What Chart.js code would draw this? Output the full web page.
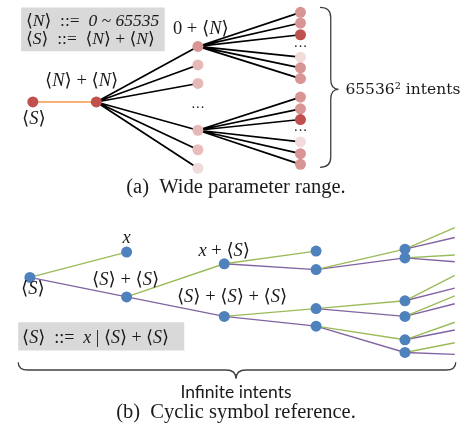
<!DOCTYPE html>
<html>
<head>
<meta charset="utf-8">
<script src="https://cdn.jsdelivr.net/npm/chart.js@4.4.0/dist/chart.umd.min.js"></script>
<style>
html, body { margin: 0; padding: 0; background: #fff; }
</style>
</head>
<body>
<canvas id="c" width="472" height="433"></canvas>
<script>
// (a) wide parameter range: root -> <N>+<N> -> 6 first values -> 6 second values
var aRootX = [28, 93];
var aRootY = [99, 99];
var aMidX = 197;
var aMidY = [42, 61, 80, 128, 148, 167];
var aMidColors = ['#d99594', '#e6b9b8', '#e6b9b8', '#e6b9b8', '#e8bdbc', '#f2dcdb'];
var aLeafX = 302;
var aLeafTopY = [7, 18, 30, 53, 64, 75];
var aLeafBotY = [94, 106, 117, 140, 152, 163];
var aLeafColors = ['#d99594', '#d99594', '#c0504d', '#f2dcdb', '#d99594', '#d99594'];

// (b) cyclic symbol reference
var bNodeX = [25, 124, 124, 224, 224, 318, 318, 318, 318, 409, 409, 409, 409, 409, 409];
var bNodeY = [279, 253, 299, 265, 319, 252, 271, 311, 329, 250, 259, 303, 319, 343, 356];
var bGreenEdges = [[0, 1], [2, 3], [3, 5], [4, 7], [6, 9], [7, 11], [8, 13]];   // "x" branch
var bPurpleEdges = [[0, 2], [2, 4], [3, 6], [4, 8], [6, 10], [7, 12], [8, 14]]; // "<S>+<S>" branch
var bStubFrom = [9, 10, 11, 12, 13, 14];
var bStubX = 460;
var bStubGreenY = [228, 256, 277, 298, 325, 346];
var bStubPurpleY = [238, 263, 290, 306, 333, 358];

var SERIF = "'Liberation Serif', 'DejaVu Serif', serif";

// segments list with a null point between them so each pair is its own line
function segs(pairs) {
    var out = [];
    pairs.forEach(function(p) {
        out.push({x: p[0], y: p[1]}, {x: p[2], y: p[3]}, {x: p[2], y: null});
    });
    return out;
}

var blackPairs = [];
aMidY.forEach(function(y) { blackPairs.push([aRootX[1], aRootY[1], aMidX, y]); });
aLeafTopY.forEach(function(y) { blackPairs.push([aMidX, aMidY[0], aLeafX, y]); });
aLeafBotY.forEach(function(y) { blackPairs.push([aMidX, aMidY[3], aLeafX, y]); });

var greenPairs = bGreenEdges.map(function(e) { return [bNodeX[e[0]], bNodeY[e[0]], bNodeX[e[1]], bNodeY[e[1]]]; });
var purplePairs = bPurpleEdges.map(function(e) { return [bNodeX[e[0]], bNodeY[e[0]], bNodeX[e[1]], bNodeY[e[1]]]; });
bStubFrom.forEach(function(n, i) {
    greenPairs.push([bNodeX[n], bNodeY[n], bStubX, bStubGreenY[i]]);
    purplePairs.push([bNodeX[n], bNodeY[n], bStubX, bStubPurpleY[i]]);
});

var aNodes = [], aColors = [];
aRootX.forEach(function(x, i) { aNodes.push({x: x, y: aRootY[i]}); aColors.push('#c0504d'); });
aMidY.forEach(function(y, i) { aNodes.push({x: aMidX, y: y}); aColors.push(aMidColors[i]); });
aLeafTopY.forEach(function(y, i) { aNodes.push({x: aLeafX, y: y}); aColors.push(aLeafColors[i]); });
aLeafBotY.forEach(function(y, i) { aNodes.push({x: aLeafX, y: y}); aColors.push(aLeafColors[i]); });
var bNodes = bNodeX.map(function(x, i) { return {x: x, y: bNodeY[i]}; });

// text with {...} parts set in italic
function drawMath(ctx, text, x, y, size, align) {
    var runs = [], cur = '', it = false, w = 0;
    for (var i = 0; i < text.length; i++) {
        var ch = text[i];
        if (ch === '{' || ch === '}') {
            if (cur) runs.push([cur, it]);
            cur = '';
            it = ch === '{';
        } else cur += ch;
    }
    if (cur) runs.push([cur, it]);
    runs.forEach(function(r) {
        ctx.font = (r[1] ? 'italic ' : '') + size + 'px ' + SERIF;
        r.push(ctx.measureText(r[0]).width);
        w += r[2];
    });
    var sx = align === 'left' ? x : x - w / 2;
    ctx.textAlign = 'left';
    ctx.textBaseline = 'middle';
    runs.forEach(function(r) {
        ctx.font = (r[1] ? 'italic ' : '') + size + 'px ' + SERIF;
        ctx.fillText(r[0], sx, y);
        sx += r[2];
    });
}

function vBrace(ctx, xe, xs, xt, y0, ym, y1) {
    var r = 10;
    ctx.beginPath();
    ctx.moveTo(xe, y0);
    ctx.quadraticCurveTo(xs, y0, xs, y0 + r);
    ctx.lineTo(xs, ym - r);
    ctx.quadraticCurveTo(xs, ym, xt, ym);
    ctx.quadraticCurveTo(xs, ym, xs, ym + r);
    ctx.lineTo(xs, y1 - r);
    ctx.quadraticCurveTo(xs, y1, xe, y1);
    ctx.stroke();
}

function hBrace(ctx, ye, ys, yt, x0, xm, x1) {
    var r = 10;
    ctx.beginPath();
    ctx.moveTo(x0, ye);
    ctx.quadraticCurveTo(x0, ys, x0 + r, ys);
    ctx.lineTo(xm - r, ys);
    ctx.quadraticCurveTo(xm, ys, xm, yt);
    ctx.quadraticCurveTo(xm, ys, xm + r, ys);
    ctx.lineTo(x1 - r, ys);
    ctx.quadraticCurveTo(x1, ys, x1, ye);
    ctx.stroke();
}

var decor = {
    id: 'decor',
    beforeDatasetsDraw: function(chart) {
        var ctx = chart.ctx, sx = chart.scales.x, sy = chart.scales.y;
        var px = function(v) { return sx.getPixelForValue(v); };
        var py = function(v) { return sy.getPixelForValue(v); };
        ctx.save();
        ctx.fillStyle = '#d9d9d9';
        ctx.fillRect(px(16), py(2), px(163) - px(16), py(47) - py(2));
        ctx.fillRect(px(13), py(325), px(183) - px(13), py(354) - py(325));
        ctx.restore();
    },
    afterDatasetsDraw: function(chart) {
        var ctx = chart.ctx, sx = chart.scales.x, sy = chart.scales.y;
        var px = function(v) { return sx.getPixelForValue(v); };
        var py = function(v) { return sy.getPixelForValue(v); };
        ctx.save();
        ctx.fillStyle = '#1a1a1a';
        // grammar boxes
        drawMath(ctx, '⟨{N}⟩  ::=  {0 ~ 65535}', px(21), py(16), 17.5, 'left');
        drawMath(ctx, '⟨{S}⟩  ::=  ⟨{N}⟩ + ⟨{N}⟩', px(21), py(35), 17.5, 'left');
        drawMath(ctx, '⟨{S}⟩  ::=  {x} | ⟨{S}⟩ + ⟨{S}⟩', px(17), py(341), 18, 'left');
        // node labels
        drawMath(ctx, '⟨{N}⟩ + ⟨{N}⟩', px(78), py(78), 18.5);
        drawMath(ctx, '⟨{S}⟩', px(29), py(117), 18.5);
        drawMath(ctx, '0 + ⟨{N}⟩', px(200), py(24), 18.5);
        drawMath(ctx, '{x}', px(124), py(239), 18.5);
        drawMath(ctx, '⟨{S}⟩ + ⟨{S}⟩', px(123), py(282), 18.5);
        drawMath(ctx, '⟨{S}⟩', px(28), py(291), 18.5);
        drawMath(ctx, '{x} + ⟨{S}⟩', px(224), py(252), 18.5);
        drawMath(ctx, '⟨{S}⟩ + ⟨{S}⟩ + ⟨{S}⟩', px(232), py(299), 18.5);
        // ellipses
        ctx.font = '14px ' + SERIF;
        ctx.textAlign = 'center';
        ctx.textBaseline = 'middle';
        ctx.fillText('···', px(aMidX), py(105));
        ctx.fillText('···', px(aLeafX), py(43));
        ctx.fillText('···', px(aLeafX), py(129));
        // braces
        ctx.strokeStyle = '#404040';
        ctx.lineWidth = 1.3;
        vBrace(ctx, px(322), px(333), px(341), py(2), py(86), py(166));
        hBrace(ctx, py(366), py(374), py(383), px(13), px(236), px(461));
        // counts and captions
        ctx.font = "15.5px 'DejaVu Serif', serif";
        ctx.textAlign = 'left';
        ctx.fillText('65536² intents', px(348), py(87));
        ctx.font = '17.5px Lato, sans-serif';
        ctx.textAlign = 'center';
        ctx.fillText('Infinite intents', px(236), py(397));
        ctx.font = '20.5px ' + SERIF;
        ctx.fillText('(a)  Wide parameter range.', px(236), py(187));
        ctx.fillText('(b)  Cyclic symbol reference.', px(236), py(418));
        ctx.restore();
    }
};

var chart = new Chart(document.getElementById('c'), {
    type: 'scatter',
    data: {
        datasets: [
            {label: 'a nodes', data: aNodes, pointRadius: 5.5, pointBackgroundColor: aColors, pointBorderWidth: 0, order: 0},
            {label: 'b nodes', data: bNodes, pointRadius: 5.5, pointBackgroundColor: '#4f81bd', pointBorderWidth: 0, order: 0},
            {label: 'root', data: segs([[aRootX[0], aRootY[0], aRootX[1], aRootY[1]]]), showLine: true, borderColor: '#f79646', borderWidth: 1.6, pointRadius: 0, order: 1},
            {label: 'fan', data: segs(blackPairs), showLine: true, borderColor: '#000', borderWidth: 1.7, pointRadius: 0, order: 1},
            {label: 'x', data: segs(greenPairs), showLine: true, borderColor: '#9bbb59', borderWidth: 1.4, pointRadius: 0, order: 1},
            {label: 'S+S', data: segs(purplePairs), showLine: true, borderColor: '#8064a2', borderWidth: 1.4, pointRadius: 0, order: 1}
        ]
    },
    options: {
        responsive: false,
        animation: false,
        devicePixelRatio: 1,
        layout: {padding: 0},
        scales: {
            x: {type: 'linear', min: 0, max: 472, display: false},
            y: {type: 'linear', min: 0, max: 433, reverse: true, display: false}
        },
        plugins: {legend: {display: false}, tooltip: {enabled: false}},
        elements: {line: {tension: 0}}
    },
    plugins: [decor]
});
</script>
</body>
</html>
